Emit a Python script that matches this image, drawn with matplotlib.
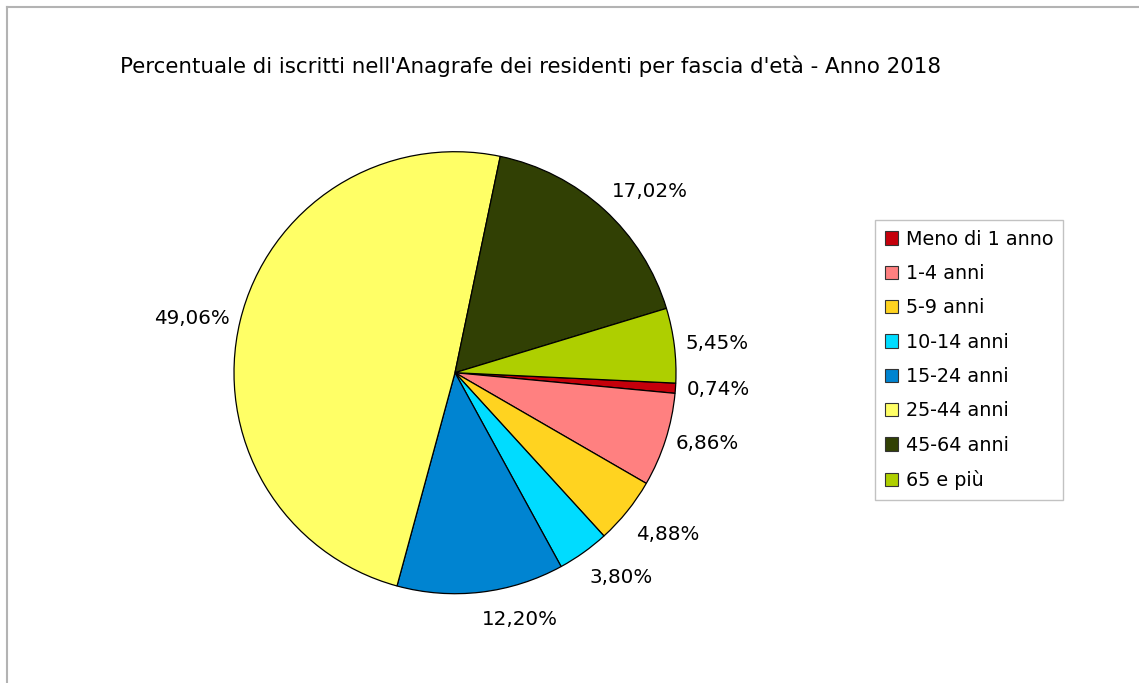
import numpy as np
import matplotlib
matplotlib.use("Agg")
import matplotlib.pyplot as plt
from matplotlib.patches import Patch
from matplotlib.lines import Line2D

categories = ["Meno di 1 anno", "1-4 anni", "5-9 anni", "10-14 anni",
              "15-24 anni", "25-44 anni", "45-64 anni", "65 e più"]
values = [0.74, 6.86, 4.88, 3.80, 12.20, 49.06, 17.02, 5.45]
labels = ["0,74%", "6,86%", "4,88%", "3,80%", "12,20%", "49,06%", "17,02%", "5,45%"]
colors = ["#c5000b", "#ff8080", "#ffd320", "#00dcff", "#0084d1",
          "#ffff66", "#314004", "#aecf00"]
title = "Percentuale di iscritti nell'Anagrafe dei residenti per fascia d'età - Anno 2018"

W, H = 1139, 683
fig = plt.figure(figsize=(W / 100, H / 100), dpi=100)
plt.rcParams['font.family'] = ['DejaVu Sans']

# frame lines (top and left)
fig.add_artist(Line2D([7 / W, 1.0], [1 - 7 / H, 1 - 7 / H], color="#b3b3b3", lw=1.5))
fig.add_artist(Line2D([7 / W, 7 / W], [0, 1 - 7 / H], color="#b3b3b3", lw=1.5))

cx, cy, r = 455, 372.7, 221
ax = fig.add_axes([(cx - r) / W, (H - cy - r) / H, 2 * r / W, 2 * r / H])

start = -2.7
wedges, _ = ax.pie(values, colors=colors, startangle=start, counterclock=False,
                   radius=1, wedgeprops=dict(edgecolor="black", linewidth=0.9))
ax.set_xlim(-1, 1)
ax.set_ylim(-1, 1)
ax.axis("off")

total = sum(values)
cum = 0.0
for v, lab in zip(values, labels):
    mid = start - (cum + v / 2) / total * 360
    cum += v
    a = np.deg2rad(mid)
    c, s = np.cos(a), np.sin(a)
    ha = "left" if c > 0.1 else ("right" if c < -0.1 else "center")
    va = "bottom" if s > 0.35 else ("top" if s < -0.35 else "center")
    x, y = 1.05 * c, 1.05 * s
    if va == "top":
        y -= 0.03
    ax.text(x, y, lab, ha=ha, va=va, fontsize=14.3, color="black", clip_on=False)

fig.text(120 / W, 1 - 66 / H, title, ha="left", va="center", fontsize=15.4)

handles = [Patch(facecolor=col, edgecolor="#333333", linewidth=0.8) for col in colors]
leg = fig.legend(handles, categories, loc="upper left",
                 bbox_to_anchor=(875 / W, 1 - 220 / H), fontsize=13.8,
                 frameon=True, fancybox=False, edgecolor="#b3b3b3",
                 handlelength=0.7, handleheight=0.7, handletextpad=0.4,
                 labelspacing=0.8, borderpad=0.5, borderaxespad=0)
leg.get_frame().set_linewidth(1.0)

fig.savefig("out.png", dpi=100)
